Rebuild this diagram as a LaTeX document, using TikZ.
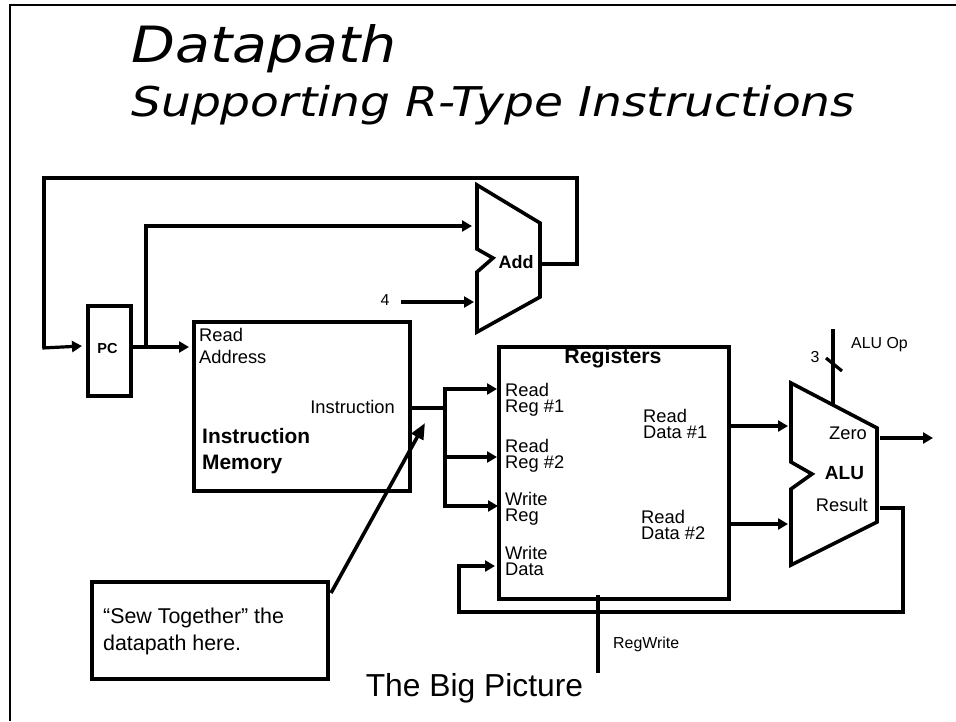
\documentclass[tikz,border=0pt]{standalone}
\usepackage{fontspec}
\setmainfont{Liberation Sans}
\newfontfamily\ttlfont{DejaVu Sans}[FakeStretch=1.14]
\newfontfamily\subfont{DejaVu Sans}[FakeStretch=1.15]
\usetikzlibrary{arrows.meta}
\tikzset{
  wire/.style={line width=3.2pt,line join=miter,line cap=butt},
  arrowwire/.style={wire,-{Triangle[length=10pt,width=11pt]}},
  block/.style={draw,line width=3.6pt,inner sep=0pt,anchor=north west},
  lbl/.style={inner sep=0pt,align=left,anchor=base west,font=\fontsize{18.3}{15.7}\selectfont},
  small/.style={inner sep=0pt,font=\fontsize{15.9}{18}\selectfont},
  bold/.style={inner sep=0pt,align=left,anchor=base west,font=\fontsize{20.9}{26}\selectfont\bfseries}
}
\begin{document}
\begin{tikzpicture}[x=1pt,y=-1pt]
\useasboundingbox (0,0) rectangle (956,721);
% frame
\coordinate (fbl) at (10,721);
\coordinate (ftl) at (10,5);
\coordinate (ftr) at (956,5);
\draw[line width=2.6pt] (fbl) -- (ftl) -- (ftr);
% titles
\node[inner sep=0pt,anchor=base west] (t1) at (131,62) {\fontsize{50}{50}\selectfont\ttlfont\itshape Datapath};
\node[inner sep=0pt,anchor=base west] (t2) at (131,116) {\fontsize{41}{41}\selectfont\subfont\itshape Supporting R-Type Instructions};
% blocks
\node[block,minimum width=216pt,minimum height=169pt] (imem) at (192,320) {};
\node[block,minimum width=43pt,minimum height=90pt] (pc) at (86,304) {};
\node[block,minimum width=230pt,minimum height=252pt] (regs) at (497,345) {};
\node[inner sep=0pt,font=\fontsize{14.5}{16}\selectfont\bfseries] (pct) at (107.5,349) {PC};
\node[lbl,font=\fontsize{18.3}{22}\selectfont] (ra) at (199,363) {Read\\Address};
\node[lbl,anchor=base east] (ins) at (395,413) {Instruction};
\node[bold] (im) at (202,469) {Instruction\\Memory};
\node[inner sep=0pt,anchor=base,font=\fontsize{21.3}{22}\selectfont\bfseries] (rt) at (613,363) {Registers};
\node[lbl] (rr1) at (505,412.5) {Read\\Reg \#1};
\node[lbl] (rr2) at (505,468) {Read\\Reg \#2};
\node[lbl] (wr) at (505,521) {Write\\Reg};
\node[lbl] (wd) at (505,575) {Write\\Data};
\node[lbl] (rd1) at (643,438.5) {Read\\Data \#1};
\node[lbl] (rd2) at (641,539) {Read\\Data \#2};
% Add
\draw[line width=3.6pt,line join=miter] (477,249) -- (477,185) -- (540,223) -- (540,297) -- (477,332) -- (477,272) -- (493,258) -- cycle;
\node[inner sep=0pt,font=\fontsize{18}{20}\selectfont\bfseries] (addt) at (516,262) {Add};
\node[small] (four) at (385,300) {4};
% ALU
\draw[line width=3.6pt,line join=miter] (791,462) -- (791,383) -- (877,428) -- (877,522) -- (791,565) -- (791,489) -- (812,474) -- cycle;
\node[inner sep=0pt,font=\fontsize{19}{20}\selectfont\bfseries] (alut) at (844.5,473) {ALU};
\node[lbl,anchor=base east] (zero) at (867,439) {Zero};
\node[lbl,anchor=base east] (res) at (868,511) {Result};
\node[small,anchor=west] (aluop) at (851,345) {ALU Op};
\node[small] (three) at (815,357) {3};
\node[small,anchor=west] (rw) at (613,644) {RegWrite};
% connectors
\draw[wire] (542,264) -- (577,264) -- (577,178) -- (44,178) -- (44,348);
\draw[arrowwire] (42.4,348) -- (82,346);
\draw[arrowwire] (129,347) -- (189,347);
\draw[wire] (146,347) -- (146,226);
\draw[arrowwire] (144.4,226) -- (472,226);
\draw[arrowwire] (401,302) -- (474,302);
\draw[wire] (410,408) -- (445,408);
\draw[wire] (445,387.4) -- (445,507.6);
\draw[arrowwire] (445,389) -- (497,389);
\draw[arrowwire] (445,457) -- (497,457);
\draw[arrowwire] (445,506) -- (498,506);
\draw[arrowwire] (727,426) -- (788,426);
\draw[arrowwire] (727,524) -- (788,524);
\draw[arrowwire] (880,438) -- (933,438);
\draw[wire] (880,508) -- (903,508) -- (903,612) -- (459,612) -- (459,566);
\draw[arrowwire] (457.4,566) -- (495,566);
\draw[wire] (598,595) -- (598,673);
\draw[wire] (833,329) -- (833,405);
\draw[wire] (826,358) -- (842,371);
% callout
\node[block,minimum width=236pt,minimum height=97pt] (note) at (90,580) {};
\node[inner sep=0pt,align=left,anchor=base west,font=\fontsize{21.4}{27}\selectfont] (nt) at (103,650) {“Sew Together” the\\datapath here.};
\draw[line width=3.6pt,-{Triangle[length=16pt,width=13pt]}] (331,593) -- (425,423);
\node[inner sep=0pt,anchor=base,font=\fontsize{31.8}{34}\selectfont] (big) at (474.5,696) {The Big Picture};
\end{tikzpicture}
\end{document}
